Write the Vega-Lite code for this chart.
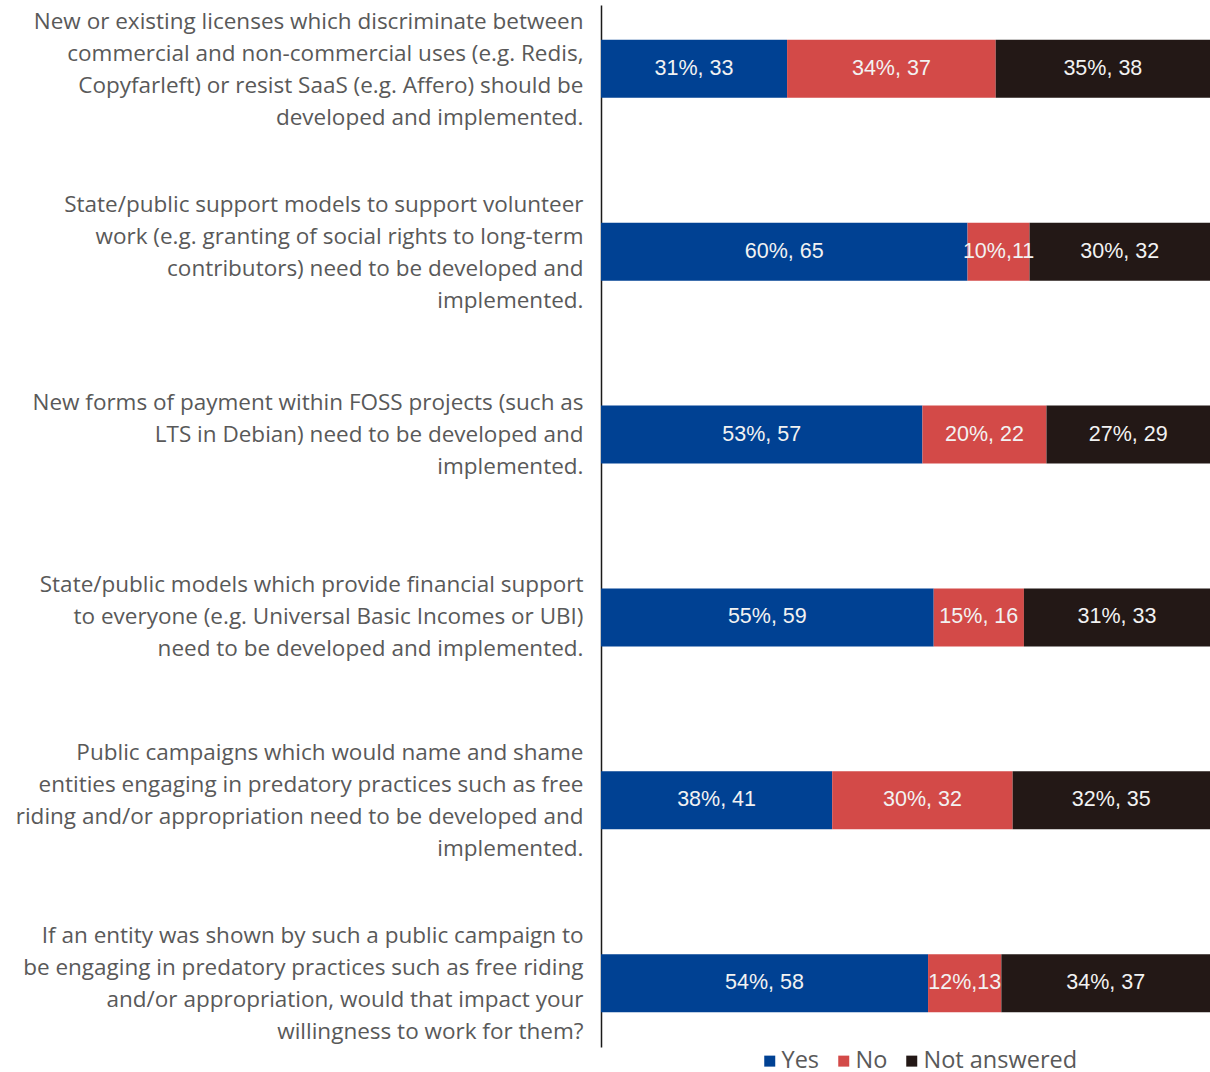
{
  "$schema": "https://vega.github.io/schema/vega-lite/v6.json",
  "autosize": "none",
  "width": 609,
  "height": 1042,
  "padding": {"left": 601, "top": 5, "right": 0, "bottom": 25},
  "background": "white",
  "config": {"view": {"stroke": null}},
  "data": {
    "values": [
      {"q": "New or existing licenses which discriminate between|commercial and non-commercial uses (e.g. Redis,|Copyfarleft) or resist SaaS (e.g. Affero) should be|developed and implemented.", "answer": "Yes", "o": 1, "count": 33, "label": "31%, 33"},
      {"q": "New or existing licenses which discriminate between|commercial and non-commercial uses (e.g. Redis,|Copyfarleft) or resist SaaS (e.g. Affero) should be|developed and implemented.", "answer": "No", "o": 2, "count": 37, "label": "34%, 37"},
      {"q": "New or existing licenses which discriminate between|commercial and non-commercial uses (e.g. Redis,|Copyfarleft) or resist SaaS (e.g. Affero) should be|developed and implemented.", "answer": "Not answered", "o": 3, "count": 38, "label": "35%, 38"},
      {"q": "State/public support models to support volunteer|work (e.g. granting of social rights to long-term|contributors) need to be developed and|implemented.", "answer": "Yes", "o": 1, "count": 65, "label": "60%, 65"},
      {"q": "State/public support models to support volunteer|work (e.g. granting of social rights to long-term|contributors) need to be developed and|implemented.", "answer": "No", "o": 2, "count": 11, "label": "10%,11"},
      {"q": "State/public support models to support volunteer|work (e.g. granting of social rights to long-term|contributors) need to be developed and|implemented.", "answer": "Not answered", "o": 3, "count": 32, "label": "30%, 32"},
      {"q": "New forms of payment within FOSS projects (such as|LTS in Debian) need to be developed and|implemented.", "answer": "Yes", "o": 1, "count": 57, "label": "53%, 57"},
      {"q": "New forms of payment within FOSS projects (such as|LTS in Debian) need to be developed and|implemented.", "answer": "No", "o": 2, "count": 22, "label": "20%, 22"},
      {"q": "New forms of payment within FOSS projects (such as|LTS in Debian) need to be developed and|implemented.", "answer": "Not answered", "o": 3, "count": 29, "label": "27%, 29"},
      {"q": "State/public models which provide financial support|to everyone (e.g. Universal Basic Incomes or UBI)|need to be developed and implemented.", "answer": "Yes", "o": 1, "count": 59, "label": "55%, 59"},
      {"q": "State/public models which provide financial support|to everyone (e.g. Universal Basic Incomes or UBI)|need to be developed and implemented.", "answer": "No", "o": 2, "count": 16, "label": "15%, 16"},
      {"q": "State/public models which provide financial support|to everyone (e.g. Universal Basic Incomes or UBI)|need to be developed and implemented.", "answer": "Not answered", "o": 3, "count": 33, "label": "31%, 33"},
      {"q": "Public campaigns which would name and shame|entities engaging in predatory practices such as free|riding and/or appropriation need to be developed and|implemented.", "answer": "Yes", "o": 1, "count": 41, "label": "38%, 41"},
      {"q": "Public campaigns which would name and shame|entities engaging in predatory practices such as free|riding and/or appropriation need to be developed and|implemented.", "answer": "No", "o": 2, "count": 32, "label": "30%, 32"},
      {"q": "Public campaigns which would name and shame|entities engaging in predatory practices such as free|riding and/or appropriation need to be developed and|implemented.", "answer": "Not answered", "o": 3, "count": 35, "label": "32%, 35"},
      {"q": "If an entity was shown by such a public campaign to|be engaging in predatory practices such as free riding|and/or appropriation, would that impact your|willingness to work for them?", "answer": "Yes", "o": 1, "count": 58, "label": "54%, 58"},
      {"q": "If an entity was shown by such a public campaign to|be engaging in predatory practices such as free riding|and/or appropriation, would that impact your|willingness to work for them?", "answer": "No", "o": 2, "count": 13, "label": "12%,13"},
      {"q": "If an entity was shown by such a public campaign to|be engaging in predatory practices such as free riding|and/or appropriation, would that impact your|willingness to work for them?", "answer": "Not answered", "o": 3, "count": 37, "label": "34%, 37"}
    ]
  },
  "encoding": {
    "y": {
      "field": "q",
      "type": "nominal",
      "sort": null,
      "scale": {"paddingInner": 0.683, "paddingOuter": 0.19},
      "axis": {
        "title": null,
        "labelExpr": "split(datum.label, '|')",
        "labelFont": "Open Sans",
        "labelFontSize": 22.5,
        "labelColor": "#595959",
        "labelLineHeight": 32,
        "labelLimit": 700,
        "labelPadding": 18,
        "labelAlign": "right",
        "labelBaseline": "middle",
        "labelOffset": {"condition": {"test": "length(split(datum.label, '|')) == 4", "value": -47}, "value": -32},
        "ticks": false,
        "domainColor": "#1a1a1a",
        "domainWidth": 1.5
      }
    },
    "x": {
      "field": "count",
      "type": "quantitative",
      "stack": "normalize",
      "scale": {"domain": [0, 1], "nice": false},
      "axis": null
    },
    "order": {"field": "o", "type": "quantitative"}
  },
  "layer": [
    {
      "mark": {"type": "bar", "cornerRadius": 0},
      "encoding": {
        "color": {
          "field": "answer",
          "type": "nominal",
          "scale": {"domain": ["Yes", "No", "Not answered"], "range": ["#004193", "#d34a48", "#231816"]},
          "legend": {
            "title": null,
            "orient": "none",
            "direction": "horizontal",
            "legendX": 157,
            "legendY": 1044,
            "symbolType": "square",
            "symbolSize": 121,
            "symbolStrokeWidth": 0,
            "labelFont": "Open Sans",
            "labelFontSize": 23.5,
            "labelColor": "#595959",
            "labelOffset": 0,
            "columnPadding": 12,
            "labelLimit": 300
          }
        }
      }
    },
    {
      "mark": {"type": "text", "font": "Liberation Sans", "fontSize": 21.5, "color": "#f2f2f2", "align": "center", "baseline": "middle"},
      "encoding": {
        "x": {"field": "count", "type": "quantitative", "stack": "normalize", "bandPosition": 0.5},
        "detail": {"field": "answer"},
        "text": {"field": "label"}
      }
    }
  ]
}
